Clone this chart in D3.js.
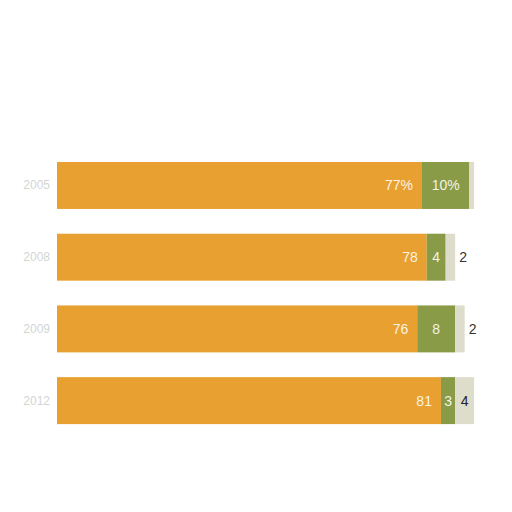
<!DOCTYPE html>
<html><head><meta charset="utf-8">
<script src="https://cdn.jsdelivr.net/npm/d3@7"></script>
<style>body{margin:0;background:#fff}svg{display:block}</style>
</head><body>
<svg id="c" width="512" height="512"></svg>
<script>
const years = ["2005", "2008", "2009", "2012"];
const orangeVals = [77, 78, 76, 81];
const greenVals = [10, 4, 8, 3];
const grayVals = [1, 2, 2, 4];
const firstSuffix = "%";

const colors = ["#E8A030", "#8A9B48", "#DEDCCB"];
const rows = years.map((y, i) => ({year: y, vals: [orangeVals[i], greenVals[i], grayVals[i]]}));

const svg = d3.select("#c");
const x = d3.scaleLinear().domain([0, 100]).range([57, 531]);
const y = d3.scaleBand().domain(years).range([162, 162 + 3 * 71.7 + 47]).paddingInner(0.345).paddingOuter(0);

// year labels
svg.append("g").selectAll("text").data(rows).join("text")
  .attr("x", 50).attr("y", d => y(d.year) + y.bandwidth() / 2)
  .attr("text-anchor", "end").attr("dominant-baseline", "central")
  .attr("font-family", "Liberation Sans, Arial, sans-serif").attr("font-size", 12)
  .attr("fill", "#d4d4d4").text(d => d.year);

rows.forEach((r, i) => {
  let cum = 0;
  const g = svg.append("g");
  r.vals.forEach((v, k) => {
    const x0 = x(cum), x1 = x(cum + v);
    cum += v;
    g.append("rect").attr("x", x0).attr("y", y(r.year)).attr("width", x1 - x0)
      .attr("height", y.bandwidth()).attr("fill", colors[k]);
    if (v < 2) return;
    const label = v + (i === 0 ? firstSuffix : "");
    const t = g.append("text").attr("y", y(r.year) + y.bandwidth() / 2)
      .attr("dominant-baseline", "central")
      .attr("font-family", "Liberation Sans, Arial, sans-serif").attr("font-size", 14)
      .text(label);
    if (k === 0) {
      t.attr("x", x1 - 9).attr("text-anchor", "end").attr("fill", "#FBF3E4");
    } else if (k === 1) {
      t.attr("x", (x0 + x1) / 2).attr("text-anchor", "middle").attr("fill", "#F3F3E6");
    } else {
      if (x1 - x0 >= 15) t.attr("x", (x0 + x1) / 2).attr("text-anchor", "middle").attr("fill", "#222");
      else t.attr("x", x1 + 4).attr("text-anchor", "start").attr("fill", "#333");
    }
  });
});
</script>
</body></html>
